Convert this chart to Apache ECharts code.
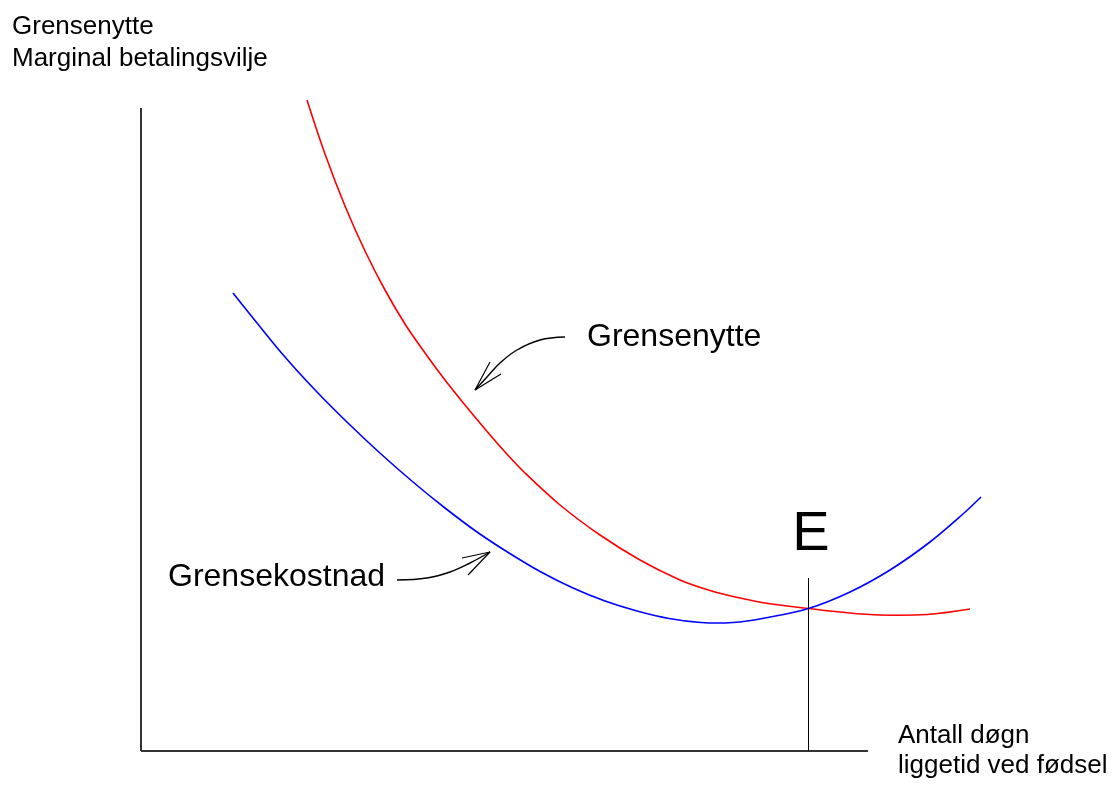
<!DOCTYPE html>
<html>
<head>
<meta charset="utf-8">
<style>
    html, body { margin: 0; padding: 0; background: #fff; }
    #main { width: 1114px; height: 785px; }
</style>
<script src="https://cdn.jsdelivr.net/npm/echarts@6/dist/echarts.min.js"></script>
</head>
<body>
<div id="main"></div>
<script>
// kurvene, lest av bildet (vilkårlige enheter)
var grensenytteData = [
    [16.6, 65.1], [18.4, 59.7], [20.4, 54.5], [22.4, 50.0], [24.4, 46.1],
    [26.4, 42.7], [28.4, 39.8], [30.4, 37.1], [32.4, 34.6], [34.4, 32.2],
    [36.4, 29.9], [38.4, 27.8], [41.9, 24.6], [45.9, 21.6], [49.9, 19.1],
    [53.9, 17.1], [56.9, 16.05], [59.9, 15.3], [62.9, 14.72], [66.75, 14.25],
    [69.9, 13.9], [73.9, 13.6], [78.6, 13.65], [82.9, 14.2]
];
var grensekostnadData = [
    [9.2, 45.8], [11.2, 43.3], [14.4, 39.4], [17.6, 35.9], [20.8, 32.7],
    [24.0, 29.7], [27.2, 26.9], [30.4, 24.3], [33.6, 21.9], [36.8, 19.8],
    [40.0, 17.9], [43.2, 16.3], [46.4, 15.0], [49.6, 14.0], [52.8, 13.25],
    [56.0, 12.85], [59.2, 12.85], [62.4, 13.3], [66.75, 14.25], [70.9, 15.9],
    [74.9, 18.1], [78.9, 20.9], [82.2, 23.7], [84.0, 25.4]
];
// akser og likevektslinje
var yAksen = [[0, 0], [0, 64.3]];
var xAksen = [[0, 0], [72.7, 0]];
var likevektE = [[66.75, 0], [66.75, 17.3]];
// piler til tekstene
var pilNytte = [[42.4, 41.4], [39.9, 41.1], [37.6, 40.1], [35.9, 38.8], [34.6, 37.4], [33.4, 36.1]];
var pilNytteHode = [[34.9, 38.9], [33.4, 36.1], [36.0, 37.7]];
var pilKostnad = [[25.6, 17.1], [28.6, 17.3], [30.9, 17.9], [32.9, 18.8], [34.9, 19.9]];
var pilKostnadHode = [[32.1, 19.3], [34.9, 19.9], [32.7, 17.6]];

var myChart = echarts.init(document.getElementById('main'));
var font = '"Liberation Sans", Arial, sans-serif';

// rette linjer
function linje(data, color, width) {
    return {
        type: 'line', data: data, symbol: 'none',
        lineStyle: { color: color, width: width }, silent: true
    };
}
// glatt kurve gjennom punktene (en polyline for hele serien)
function kurve(data, color, width, smooth) {
    return {
        type: 'custom', data: data, silent: true, clip: false,
        renderItem: function (params, api) {
            if (params.dataIndex !== 0) return;
            var pts = data.map(function (d) { return api.coord(d); });
            return {
                type: 'polyline',
                shape: { points: pts, smooth: smooth },
                style: { stroke: color, lineWidth: width, fill: null }
            };
        }
    };
}
function tekst(txt, x, y, size, align) {
    return {
        type: 'text', x: x, y: y,
        style: { text: txt, fill: '#000', font: size + 'px ' + font, align: align || 'left', verticalAlign: 'middle' }
    };
}

var option = {
    animation: false,
    backgroundColor: '#fff',
    grid: { left: 141, top: 51, width: 860, height: 700 },
    xAxis: { type: 'value', min: 0, max: 86, show: false },
    yAxis: { type: 'value', min: 0, max: 70, show: false },
    series: [
        linje(yAksen, '#333', 2),
        linje(xAksen, '#333', 2),
        linje(likevektE, '#000', 1),
        kurve(grensenytteData, '#ff0000', 1.6, 0.35),
        kurve(grensekostnadData, '#0000ff', 1.6, 0.35),
        kurve(pilNytte, '#000', 1.4, 0.4),
        linje(pilNytteHode, '#000', 1.2),
        kurve(pilKostnad, '#000', 1.4, 0.4),
        linje(pilKostnadHode, '#000', 1.2)
    ],
    graphic: [
        tekst('Grensenytte', 12, 27, 26),
        tekst('Marginal betalingsvilje', 12, 59, 26),
        tekst('Antall døgn', 898, 736, 26),
        tekst('liggetid ved fødsel', 898, 766, 26),
        tekst('Grensenytte', 587, 337, 32),
        tekst('Grensekostnad', 168, 577, 32),
        tekst('E', 811, 535, 56, 'center')
    ]
};
myChart.setOption(option);
</script>
</body>
</html>
